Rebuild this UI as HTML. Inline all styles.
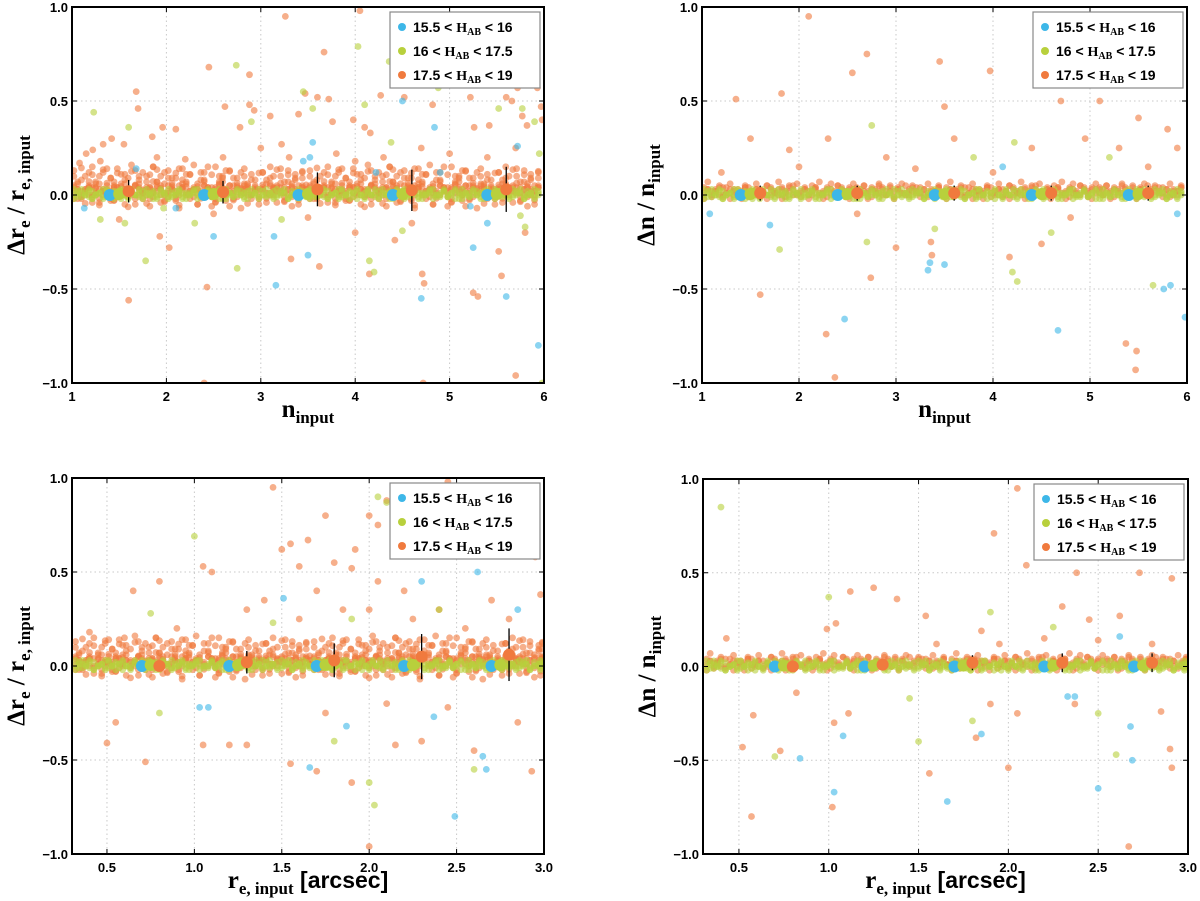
<!DOCTYPE html>
<html><head><meta charset="utf-8"><style>
body{margin:0;background:#fff}
svg{display:block}
.tk{font-family:"Liberation Sans",sans-serif;font-weight:bold;font-size:13px;fill:#000}
.lab{font-family:"Liberation Serif",serif;font-weight:bold;font-size:25px;fill:#000}
.leg{font-family:"Liberation Sans",sans-serif;font-weight:bold;font-size:14px;fill:#000}
</style></head><body>
<svg id="fig" width="1200" height="901"></svg>
<script>
const colBlue="#3db7e8", colGreen="#b8d03c", colOrange="#f07a3e";
// band data (shared by panel rows)
const bandXTop=[1.02,1.1,1.18,1.25,1.33,1.41,1.48,1.56,1.63,1.71,1.79,1.86,1.94,2.02,2.1,2.17,2.25,2.33,2.4,2.48,2.56,2.63,2.71,2.79,2.86,2.94,3.02,3.1,3.17,3.25,3.33,3.4,3.48,3.56,3.63,3.71,3.79,3.86,3.94,4.02,4.1,4.17,4.25,4.33,4.4,4.48,4.56,4.63,4.71,4.79,4.86,4.94,5.02,5.1,5.17,5.25,5.33,5.4,5.48,5.56,5.63,5.71,5.79,5.86,5.94];
const bandXBot=[0.32,0.36,0.4,0.45,0.49,0.53,0.57,0.61,0.66,0.7,0.74,0.78,0.82,0.87,0.91,0.95,0.99,1.03,1.08,1.12,1.16,1.2,1.24,1.29,1.33,1.37,1.41,1.45,1.5,1.54,1.58,1.62,1.66,1.71,1.75,1.79,1.83,1.87,1.92,1.96,2.0,2.04,2.08,2.13,2.17,2.21,2.25,2.29,2.34,2.38,2.42,2.46,2.5,2.55,2.59,2.63,2.67,2.71,2.76,2.8,2.84,2.88,2.92,2.97,2.99];
const bandYWide=[0.05,-0.02,0.08,0.03,0.12,-0.04,0.06,0.1,0.02,0.14,-0.03,0.07,0.04,0.11,-0.05,0.09,0.03,0.13,0.06,-0.02,0.1,0.04,0.15,0.07,-0.04,0.12,0.05,0.09,-0.03,0.14,0.06,0.11,0.02,0.16,-0.05,0.08,0.12,0.04,-0.06,0.15,0.07,0.1,-0.03,0.13,0.05,0.09,-0.07,0.14,0.06,0.11,0.03,-0.05,0.12,0.08,0.15,0.04,-0.04,0.1,0.07,0.13,-0.06,0.09,0.05,0.12,0.03];
const bandYCore=[0.01,0.03,-0.01,0.02,0.0,0.04,0.01,-0.02,0.03,0.0,0.02,0.04,-0.01,0.01,0.03,0.0,0.02,-0.02,0.04,0.01,0.0,0.03,-0.01,0.02,0.05,0.0,0.01,0.03,-0.02,0.02,0.04,0.0,0.01,-0.01,0.03,0.02,0.0,0.04,0.01,-0.02,0.03,0.01,0.0,0.05,0.02,-0.01,0.03,0.01,0.04,0.0,0.02,-0.02,0.03,0.01,0.05,0.0,0.02,0.04,-0.01,0.03,0.01,0.0,0.02,0.04,0.01];
const bandYGreen=[0.0,0.02,-0.01,0.01,0.03,-0.02,0.0,0.01,-0.01,0.02,0.0,-0.02,0.01,0.03,0.0,-0.01,0.02,0.0,0.01,-0.02,0.03,0.0,0.01,-0.01,0.02,0.0,-0.02,0.01,0.0,0.03,-0.01,0.01,0.0,0.02,-0.02,0.0,0.01,0.03,-0.01,0.0,0.02,0.01,-0.02,0.0,0.01,0.03,0.0,-0.01,0.02,0.0,0.01,-0.02,0.0,0.03,0.01,-0.01,0.0,0.02,0.01,-0.02,0.0,0.01,0.03,0.0,-0.01];
// outliers
const tlOrange=[[1.08,0.17],[1.15,0.22],[1.22,0.24],[1.33,0.27],[1.42,0.3],[1.55,0.27],[1.68,0.55],[1.7,0.46],[1.6,-0.56],[1.85,0.31],[1.96,0.36],[1.93,-0.22],[2.03,-0.28],[2.1,0.35],[2.45,0.68],[2.43,-0.49],[2.62,0.47],[2.78,0.36],[2.88,0.64],[2.88,0.48],[2.93,0.45],[3.1,0.42],[3.26,0.95],[3.22,0.27],[3.32,-0.34],[3.4,0.43],[3.47,0.54],[3.6,0.52],[3.67,0.76],[3.62,-0.38],[3.72,0.51],[3.76,0.39],[4.05,0.98],[3.98,0.4],[4.1,0.36],[4.15,-0.42],[4.16,0.33],[4.27,0.53],[4.4,0.72],[4.52,0.52],[4.42,-0.24],[4.48,0.87],[4.5,0.63],[4.73,-0.47],[4.71,-0.42],[4.82,0.48],[5.05,0.71],[5.12,0.67],[5.22,0.52],[5.25,-0.52],[5.3,-0.54],[5.26,0.36],[5.42,0.37],[5.52,-0.3],[5.55,-0.43],[5.6,0.52],[5.66,0.5],[5.72,0.57],[5.77,0.42],[5.82,0.37],[5.93,0.57],[5.97,0.47],[5.98,0.4],[5.7,-0.96],[2.4,-1.0],[4.72,-1.0],[1.3,0.18],[1.9,0.2],[2.2,0.19],[2.6,0.2],[3.0,0.25],[3.3,0.2],[3.8,0.22],[4.0,0.18],[4.3,0.2],[4.7,0.25],[5.0,0.22],[5.4,0.2],[5.7,0.25],[1.5,-0.13],[2.5,-0.1],[3.5,-0.12],[4.0,-0.2],[4.6,-0.15],[5.8,-0.2]];
const tlGreen=[[1.23,0.44],[1.6,0.36],[1.56,-0.15],[1.3,-0.13],[1.78,-0.35],[2.74,0.69],[2.75,-0.39],[2.9,0.39],[3.45,0.55],[3.55,0.46],[4.03,0.79],[4.36,0.71],[4.38,0.28],[4.1,0.48],[4.88,0.57],[4.98,0.63],[4.15,-0.35],[4.2,-0.41],[5.5,0.69],[5.52,0.46],[5.77,0.46],[5.9,0.39],[5.95,0.22],[5.8,-0.17],[4.5,-0.19],[3.22,-0.13],[2.3,-0.15],[1.97,-0.07],[5.98,-1.0],[5.75,-0.11]];
const tlBlue=[[1.13,-0.07],[1.68,0.14],[2.1,-0.07],[2.5,-0.22],[3.14,-0.22],[3.16,-0.48],[3.5,-0.32],[3.52,0.2],[3.55,0.28],[4.5,0.5],[4.84,0.36],[4.7,-0.55],[4.9,0.12],[5.25,-0.28],[5.22,-0.06],[5.4,-0.15],[5.6,-0.54],[5.72,0.26],[5.94,-0.8],[4.22,0.12],[3.45,0.18]];
const trOrange=[[1.35,0.51],[1.82,0.54],[2.1,0.95],[2.55,0.65],[2.7,0.75],[3.45,0.71],[3.5,0.47],[3.97,0.66],[4.7,0.5],[5.1,0.5],[5.5,0.41],[5.8,0.35],[2.37,-0.97],[2.28,-0.74],[1.6,-0.53],[3.36,-0.25],[3.37,-0.32],[3.0,-0.28],[2.74,-0.44],[5.37,-0.79],[5.47,-0.93],[5.48,-0.83],[4.17,-0.33],[4.5,-0.26],[1.9,0.24],[2.3,0.3],[2.9,0.2],[3.6,0.3],[4.4,0.25],[5.3,0.25],[1.5,0.3],[5.9,0.25],[4.95,0.3],[1.2,0.12],[2.0,0.15],[3.2,0.14],[4.0,0.12],[5.6,0.15],[2.6,-0.1],[4.8,-0.12]];
const trGreen=[[2.75,0.37],[4.22,0.28],[4.2,-0.41],[4.25,-0.46],[5.65,-0.48],[1.8,-0.29],[2.7,-0.25],[3.4,-0.18],[4.6,-0.2],[5.2,0.2],[3.8,0.2]];
const trBlue=[[1.08,-0.1],[2.47,-0.66],[3.35,-0.36],[3.33,-0.4],[3.5,-0.37],[4.67,-0.72],[5.76,-0.5],[5.83,-0.48],[5.98,-0.65],[1.7,-0.16],[4.1,0.15],[5.9,-0.1]];
const blOrange=[[0.5,-0.41],[0.55,-0.3],[0.72,-0.51],[0.65,0.4],[0.8,0.45],[1.05,0.53],[1.1,0.5],[1.05,-0.42],[1.2,-0.42],[1.3,-0.42],[1.45,0.95],[1.5,0.62],[1.55,0.65],[1.6,0.53],[1.65,0.67],[1.75,0.8],[1.8,0.55],[1.9,0.52],[1.92,0.62],[2.0,0.8],[2.05,0.75],[2.1,0.88],[2.2,0.7],[2.3,0.88],[2.35,0.78],[2.45,0.98],[2.5,0.73],[2.6,0.76],[2.75,0.68],[2.88,0.7],[2.95,0.58],[2.98,0.38],[1.55,-0.52],[1.7,-0.56],[1.9,-0.62],[2.0,-0.96],[2.15,-0.42],[2.3,-0.4],[2.6,-0.45],[2.93,-0.56],[1.3,0.3],[1.4,0.35],[1.7,0.4],[2.2,0.4],[2.7,0.35],[0.4,0.18],[0.6,0.15],[0.9,0.2],[1.6,0.25],[1.85,0.3],[2.05,0.45],[2.25,0.25],[2.4,0.3],[2.55,0.2],[2.8,0.25],[2.0,0.3],[1.75,-0.25],[2.1,-0.2],[2.45,-0.22],[2.85,-0.3]];
const blGreen=[[1.0,0.69],[2.05,0.9],[2.1,0.87],[2.2,0.6],[2.8,0.65],[0.75,0.28],[1.45,0.23],[2.03,-0.74],[2.0,-0.62],[1.8,-0.4],[2.6,-0.55],[2.8,0.7],[0.8,-0.25],[2.4,0.3],[1.9,0.25]];
const blBlue=[[1.03,-0.22],[1.08,-0.22],[1.51,0.36],[1.66,-0.54],[1.87,-0.32],[2.37,-0.27],[2.49,-0.8],[2.65,-0.48],[2.67,-0.55],[2.62,0.5],[2.3,0.45],[2.85,0.3]];
const brOrange=[[0.43,0.15],[0.57,-0.8],[0.58,-0.26],[0.52,-0.43],[0.73,-0.45],[0.82,-0.14],[0.99,0.2],[1.04,0.23],[1.03,-0.3],[1.11,-0.25],[1.02,-0.75],[1.12,0.4],[1.25,0.42],[1.38,0.36],[1.54,0.27],[1.56,-0.57],[1.85,0.19],[1.82,-0.38],[1.92,0.71],[2.0,-0.54],[2.05,0.95],[2.1,0.54],[2.3,0.32],[2.38,0.5],[2.45,0.25],[2.62,0.27],[2.67,-0.96],[2.73,0.5],[2.91,0.47],[2.9,-0.44],[2.91,-0.54],[1.9,-0.2],[2.05,-0.25],[2.37,-0.2],[2.85,-0.24],[1.6,0.12],[2.2,0.15],[2.5,0.14],[2.8,0.12],[1.95,0.12]];
const brGreen=[[0.4,0.85],[0.7,-0.48],[1.0,0.37],[1.5,-0.4],[1.9,0.29],[1.8,-0.29],[2.5,-0.25],[2.6,-0.47],[1.45,-0.17],[2.25,0.21]];
const brBlue=[[0.84,-0.49],[1.03,-0.67],[1.08,-0.37],[1.66,-0.72],[1.85,-0.36],[2.33,-0.16],[2.37,-0.16],[2.5,-0.65],[2.68,-0.32],[2.69,-0.5],[2.62,0.16]];
// binned means
const meanXTopBlue=[1.4,2.4,3.4,4.4,5.4], meanXTopGreen=[1.5,2.5,3.5,4.5,5.5], meanXTopOrange=[1.6,2.6,3.6,4.6,5.6];
const meanXBotBlue=[0.7,1.2,1.7,2.2,2.7], meanXBotGreen=[0.75,1.25,1.75,2.25,2.75], meanXBotOrange=[0.8,1.3,1.8,2.3,2.8];
const tlMeanY=[0.02,0.015,0.03,0.025,0.03], tlErr=[0.06,0.06,0.09,0.11,0.12];
const trMeanY=[0.01,0.01,0.01,0.01,0.01], trErr=[0.04,0.04,0.04,0.04,0.04];
const blMeanY=[0.0,0.02,0.03,0.05,0.06], blErr=[0.02,0.06,0.09,0.12,0.14];
const brMeanY=[0.0,0.01,0.02,0.02,0.02], brErr=[0.01,0.03,0.04,0.05,0.05];
const yTicks=[-1.0,-0.5,0.0,0.5,1.0];
const xTicksTop=[1,2,3,4,5,6], xTicksBot=[0.5,1.0,1.5,2.0,2.5,3.0];
const yTickLabels=["\u22121.0","\u22120.5","0.0","0.5","1.0"];

const NS="http://www.w3.org/2000/svg";
const fig=document.getElementById('fig');
function mk(tag,attrs,parent){const e=document.createElementNS(NS,tag);for(const k in attrs)e.setAttribute(k,attrs[k]);(parent||fig).appendChild(e);return e;}

const panels=[
 {id:"top-left",x0:72,x1:544,y0:7,y1:383,dom:[1,6],xt:xTicksTop,xtl:["1","2","3","4","5","6"],bx:bandXTop,wide:true,o:tlOrange,g:tlGreen,b:tlBlue,mb:meanXTopBlue,mg:meanXTopGreen,mo:meanXTopOrange,my:tlMeanY,me:tlErr,ylab:"re",xlab:"n"},
 {id:"top-right",x0:702,x1:1187,y0:7,y1:383,dom:[1,6],xt:xTicksTop,xtl:["1","2","3","4","5","6"],bx:bandXTop,wide:false,o:trOrange,g:trGreen,b:trBlue,mb:meanXTopBlue,mg:meanXTopGreen,mo:meanXTopOrange,my:trMeanY,me:trErr,ylab:"n",xlab:"n"},
 {id:"bottom-left",x0:72,x1:544,y0:478,y1:854,dom:[0.3,3],xt:xTicksBot,xtl:["0.5","1.0","1.5","2.0","2.5","3.0"],bx:bandXBot,wide:true,o:blOrange,g:blGreen,b:blBlue,mb:meanXBotBlue,mg:meanXBotGreen,mo:meanXBotOrange,my:blMeanY,me:blErr,ylab:"re",xlab:"re"},
 {id:"bottom-right",x0:703,x1:1188,y0:479,y1:854,dom:[0.3,3],xt:xTicksBot,xtl:["0.5","1.0","1.5","2.0","2.5","3.0"],bx:bandXBot,wide:false,o:brOrange,g:brGreen,b:brBlue,mb:meanXBotBlue,mg:meanXBotGreen,mo:meanXBotOrange,my:brMeanY,me:brErr,ylab:"n",xlab:"re"}
];

panels.forEach(p=>{
 const g=mk('g',{});
 
 
 const sx=v=>p.x0+(v-p.dom[0])/(p.dom[1]-p.dom[0])*(p.x1-p.x0);
 const sy=v=>p.y1-(v+1)/2*(p.y1-p.y0);
 const cid='clip-'+p.id;
 const cp=mk('clipPath',{id:cid},g); mk('rect',{x:p.x0,y:p.y0,width:p.x1-p.x0,height:p.y1-p.y0},cp);
 p.xt.forEach(t=>{const l=mk('line',{x1:sx(t),x2:sx(t),y1:p.y0,y2:p.y1,stroke:'#c8c8c8','stroke-dasharray':'1.5,3','stroke-width':1},g);});
 yTicks.forEach(t=>{const l=mk('line',{x1:p.x0,x2:p.x1,y1:sy(t),y2:sy(t),stroke:'#c8c8c8','stroke-dasharray':'1.5,3','stroke-width':1},g);});
 const pts=mk('g',{'clip-path':'url(#'+cid+')'},g);
 function dot(x,y,c,name,r){const e=mk('circle',{cx:sx(x),cy:sy(y),r:r||3.4,fill:c,'fill-opacity':0.6},pts);}
 // band positions: listed x values plus midpoints between neighbours
 const xs=[];
 p.bx.forEach((x,i)=>{xs.push(x); if(i<p.bx.length-1) xs.push((x+p.bx[i+1])/2);});
 const n=bandYCore.length;
 xs.forEach((x,i)=>{
  if(p.wide){ dot(x,bandYWide[i%n],colOrange,'point-17.5-19'); dot(x,bandYWide[(i+17)%n],colOrange,'point-17.5-19'); dot(x,bandYWide[(i+31)%n]*0.9,colOrange,'point-17.5-19'); }
  dot(x,bandYCore[i%n],colOrange,'point-17.5-19');
  dot(x,bandYCore[(i+7)%n],colOrange,'point-17.5-19');
  dot(x,bandYCore[(i+23)%n]+0.02,colOrange,'point-17.5-19');
 });
 p.o.forEach(d=>dot(d[0],d[1],colOrange,'point-17.5-19'));
 xs.forEach((x,i)=>{ dot(x,bandYGreen[i%n],colGreen,'point-16-17.5'); dot(x,bandYGreen[(i+11)%n],colGreen,'point-16-17.5'); dot(x,bandYGreen[(i+29)%n],colGreen,'point-16-17.5');});
 p.g.forEach(d=>dot(d[0],d[1],colGreen,'point-16-17.5'));
 p.b.forEach(d=>dot(d[0],d[1],colBlue,'point-15.5-16'));
 p.mb.forEach(x=>{const e=mk('circle',{cx:sx(x),cy:sy(0),r:6,fill:colBlue},g);});
 p.mg.forEach(x=>{const e=mk('circle',{cx:sx(x),cy:sy(0.005),r:6,fill:colGreen},g);});
 p.mo.forEach((x,i)=>{
  const l=mk('line',{x1:sx(x),x2:sx(x),y1:sy(p.my[i]-p.me[i]),y2:sy(p.my[i]+p.me[i]),stroke:'#000','stroke-width':1.3},g);
  const e=mk('circle',{cx:sx(x),cy:sy(p.my[i]),r:6,fill:colOrange},g);});
 const fr=mk('rect',{x:p.x0,y:p.y0,width:p.x1-p.x0,height:p.y1-p.y0,fill:'none',stroke:'#000','stroke-width':2},g);
 p.xt.forEach((t,i)=>{mk('line',{x1:sx(t),x2:sx(t),y1:p.y1,y2:p.y1-5,stroke:'#000'},g);mk('line',{x1:sx(t),x2:sx(t),y1:p.y0,y2:p.y0+5,stroke:'#000'},g);
  const tx=mk('text',{x:sx(t),y:p.y1+18,'text-anchor':'middle',class:'tk'},g);tx.textContent=p.xtl[i];});
 yTicks.forEach((t,i)=>{mk('line',{x1:p.x0,x2:p.x0+5,y1:sy(t),y2:sy(t),stroke:'#000'},g);mk('line',{x1:p.x1,x2:p.x1-5,y1:sy(t),y2:sy(t),stroke:'#000'},g);
  const tx=mk('text',{x:p.x0-4,y:sy(t)+5,'text-anchor':'end',class:'tk'},g);tx.textContent=yTickLabels[i];});
 const cy=(p.y0+p.y1)/2;
 const yl=mk('text',{x:0,y:0,class:'lab','text-anchor':'middle',transform:`translate(${p.x0-48},${cy}) rotate(-90)`},g);
 
 if(p.ylab==="re") yl.innerHTML='Δr<tspan font-size="17" dy="6">e</tspan><tspan dy="-6"> / r</tspan><tspan font-size="17" dy="6">e, input</tspan>';
 else yl.innerHTML='Δn / n<tspan font-size="17" dy="6">input</tspan>';
 const cx=(p.x0+p.x1)/2;
 const xl=mk('text',{x:cx,y:p.y1+34,class:'lab','text-anchor':'middle'},g);
 
 if(p.xlab==="n") xl.innerHTML='n<tspan font-size="17" dy="6">input</tspan>';
 else xl.innerHTML='r<tspan font-size="17" dy="6">e, input</tspan><tspan dy="-6" font-family="Liberation Sans" font-size="23"> [arcsec]</tspan>';
 const lx=p.x1-154, ly=p.y0+5;
 const lg=mk('g',{},g);
 mk('rect',{x:lx,y:ly,width:150,height:76,fill:'#fff',stroke:'#888','stroke-width':1.2},lg);
 const ents=[[colBlue,'15.5 < H','< 16'],[colGreen,'16 < H','< 17.5'],[colOrange,'17.5 < H','< 19']];
 ents.forEach((en,i)=>{const eg=mk('g',{},lg);
  mk('circle',{cx:lx+12,cy:ly+15+i*24,r:4,fill:en[0]},eg);
  const t=mk('text',{x:lx+23,y:ly+20+i*24,class:'leg'},eg);
  t.innerHTML=en[1].replace(' H',' ')+'<tspan font-family="Liberation Serif">H</tspan><tspan font-family="Liberation Serif" font-size="10" dy="3">AB</tspan><tspan dy="-3"> '+en[2]+'</tspan>';});
});
</script>
</body></html>
